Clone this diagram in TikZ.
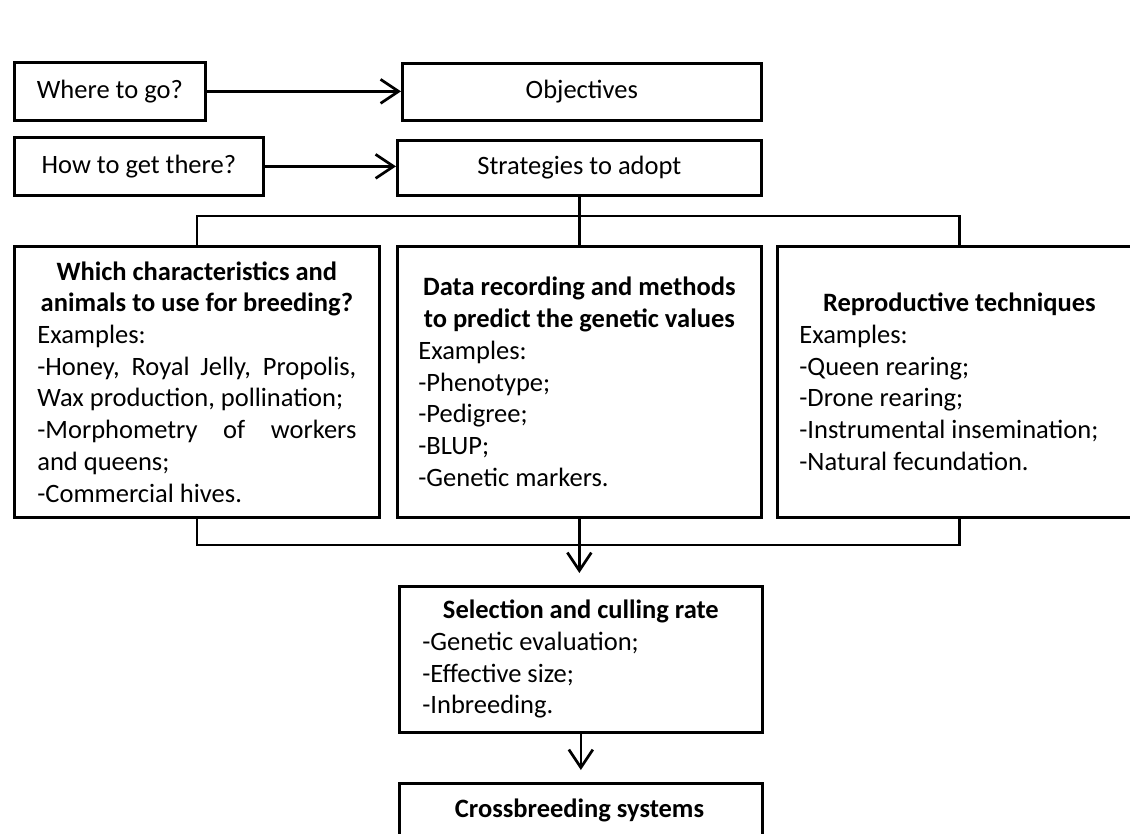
\documentclass[tikz,border=0pt]{standalone}
\usepackage{fontspec}
\setmainfont{Carlito}
\usetikzlibrary{arrows.meta}
\tikzset{
  box/.style={draw, line width=2.7pt, rectangle, inner sep=0pt,
    font=\fontsize{26.5}{31.7}\selectfont},
  small/.style={box, anchor=north west, align=center},
  big/.style={box, anchor=north west, align=justify},
  conn/.style={line width=2.7pt},
  arr/.style={conn, -{Straight Barb[length=18pt,width=24pt,line width=2.7pt]}},
  txt/.style={inner sep=0pt, font=\fontsize{26.5}{31.7}\selectfont\bfseries}
}
\begin{document}
\begin{tikzpicture}[x=1pt,y=-1pt]
\fill[white] (0,0) rectangle (1130,833);
\useasboundingbox (0,0) rectangle (1130,833);

\node[small, minimum width=191pt, minimum height=58pt] (where) at (13,61) {Where to go?};
\node[small, minimum width=359pt, minimum height=57pt] (obj) at (401,62) {Objectives};
\node[small, minimum width=249pt, minimum height=58pt] (how) at (13,136) {How to get there?};
\node[small, minimum width=364pt, minimum height=55pt] (strat) at (396,139) {Strategies to adopt};

\node[big, minimum width=365pt, minimum height=271pt, text width=319pt, inner xsep=23pt] (left) at (13,245)
{\hyphenpenalty=10000{\centering\bfseries Which characteristics and\\animals to use for breeding?\par}
Examples:\\
-Honey, Royal Jelly, Propolis,\linebreak Wax production, pollination;\\
-Morphometry of workers\linebreak and queens;\\
-Commercial hives.};

\node[big, minimum width=364pt, minimum height=271pt, text width=322pt, inner xsep=21pt] (mid) at (396,245)
{\hyphenpenalty=10000{\centering\bfseries Data recording and methods\\to predict the genetic values\par}
Examples:\\
-Phenotype;\\
-Pedigree;\\
-BLUP;\\
-Genetic markers.};

\node[big, minimum width=364pt, minimum height=271pt, text width=320pt, inner xsep=22pt] (right) at (776,245)
{\hyphenpenalty=10000{\centering\bfseries Reproductive techniques\par}
Examples:\\
-Queen rearing;\\
-Drone rearing;\\
-Instrumental insemination;\\
-Natural fecundation.};

\node[big, minimum width=363pt, minimum height=146pt, text width=317pt, inner xsep=23pt] (sel) at (398,585)
{\hyphenpenalty=10000{\centering\bfseries Selection and culling rate\par}
-Genetic evaluation;\\
-Effective size;\\
-Inbreeding.};

\node[box, anchor=north west, minimum width=363pt, minimum height=120pt] (cross) at (398,782) {};
\node[txt] (crosst) at (579.5,810) {Crossbreeding systems};

\coordinate (bus1) at (578,216);
\coordinate (bus2) at (578,545);

\draw[arr] (where.east) -- (where.east -| obj.west);
\draw[arr] (how.east) -- (how.east -| strat.west);
\draw[conn] (strat.south) -- (mid.north);
\draw[conn] (left.north) |- (bus1) -| (right.north);
\draw[conn] (left.south) |- (bus2) -| (right.south);
\draw[arr, shorten >=12pt] (mid.south) -- (mid.south |- sel.north);
\draw[arr, shorten >=12pt] (sel.south) -- (cross.north);
\end{tikzpicture}
\end{document}
